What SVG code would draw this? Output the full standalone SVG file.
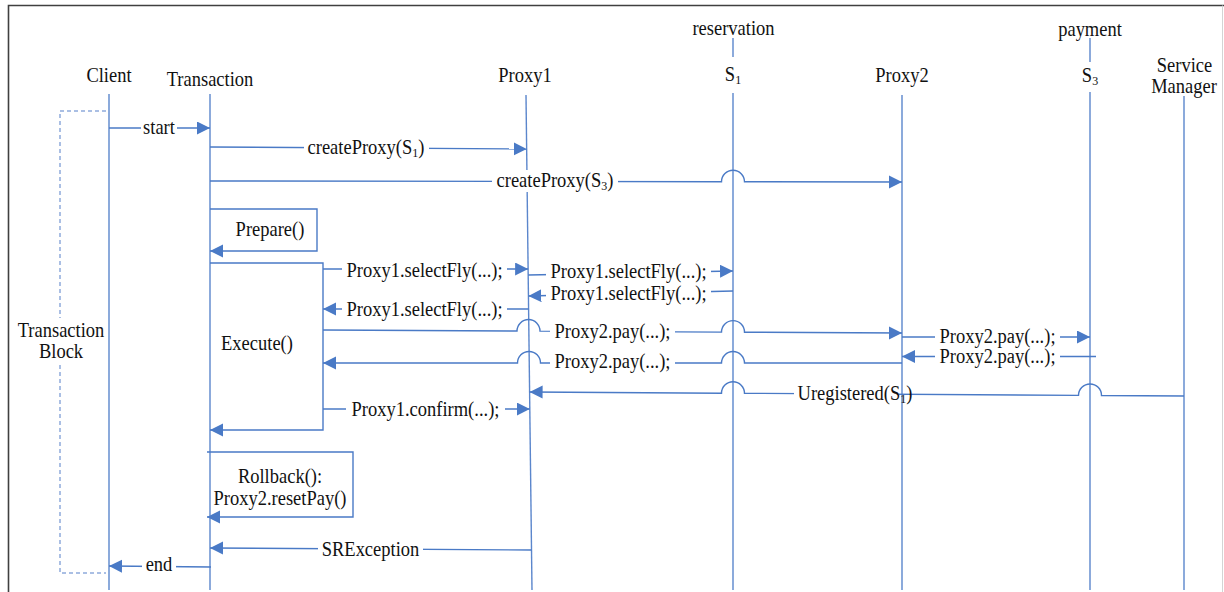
<svg xmlns="http://www.w3.org/2000/svg" width="1224" height="592" viewBox="0 0 1224 592">
  <style>
    .t { font-family: "Liberation Serif", "Times New Roman", serif; font-size: 18.5px; fill: #111; }
    .m { text-anchor: middle; }
    .life { stroke: #5b86cc; stroke-width: 1.4; fill: none; }
    .msg { stroke: #4a7ac6; stroke-width: 1.4; fill: none; }
    .arr { marker-end: url(#ah); }
    .bg { fill: #fff; }
    .dash { stroke: #8fabdc; stroke-width: 1.5; stroke-dasharray: 4 3; fill: none; }
  </style>
  <defs>
    <marker id="ah" markerWidth="14" markerHeight="14" refX="13" refY="6.5" orient="auto" markerUnits="userSpaceOnUse">
      <path d="M0,0 L13,6.5 L0,13 Z" fill="#4a7ac6"/>
    </marker>
  </defs>

  <rect width="1224" height="592" fill="#fff"/>
  <!-- outer frame -->
  <path d="M8.5,600 V5.5 H1224" stroke="#404040" stroke-width="1.6" fill="none"/>
  <line x1="1222.5" y1="5.5" x2="1222.5" y2="592" stroke="#d4d4d4" stroke-width="1"/>

  <!-- lifelines -->
  <g id="client">
    <text class="t m" transform="translate(109 81.5) scale(1 1.12)">Client</text>
    <line class="life" x1="109" y1="94" x2="109" y2="590"/>
  </g>
  <g id="transaction">
    <text class="t m" transform="translate(210 86) scale(1 1.12)">Transaction</text>
    <line class="life" x1="210" y1="94" x2="210" y2="590"/>
  </g>
  <g id="proxy1">
    <text class="t m" transform="translate(525 82) scale(1 1.12)">Proxy1</text>
    <line class="life" x1="526" y1="95" x2="532" y2="590"/>
  </g>
  <g id="s1">
    <text class="t m" transform="translate(733.5 35) scale(1 1.12)">reservation</text>
    <line class="life" x1="733" y1="38" x2="733" y2="57"/>
    <text class="t m" transform="translate(733 81) scale(1 1.12)">S<tspan font-size="12" dy="3">1</tspan></text>
    <line class="life" x1="733" y1="93" x2="733" y2="590"/>
  </g>
  <g id="proxy2">
    <text class="t m" transform="translate(902 82) scale(1 1.12)">Proxy2</text>
    <line class="life" x1="902" y1="95" x2="902" y2="590"/>
  </g>
  <g id="s3">
    <text class="t m" transform="translate(1090 36) scale(1 1.12)">payment</text>
    <line class="life" x1="1090" y1="38" x2="1090" y2="62"/>
    <text class="t m" transform="translate(1090 82) scale(1 1.12)">S<tspan font-size="12" dy="3">3</tspan></text>
    <line class="life" x1="1090" y1="92" x2="1090" y2="590"/>
  </g>
  <g id="service-manager">
    <text class="t m" transform="translate(1184.5 72) scale(1 1.12)">Service</text>
    <text class="t m" transform="translate(1184 93) scale(1 1.12)">Manager</text>
    <line class="life" x1="1184" y1="96" x2="1184" y2="590"/>
  </g>

  <!-- transaction block bracket -->
  <g id="transaction-block">
    <path class="dash" d="M106,111 H60 V318 M60,365 V573 H106"/>
    <text class="t m" transform="translate(61 337) scale(1 1.12)">Transaction</text>
    <text class="t m" transform="translate(61 358) scale(1 1.12)">Block</text>
  </g>

  <!-- messages -->
  <g id="connectors">
    <path class="msg arr" d="M109,128 H210"/>
    <path class="msg arr" d="M210,147 L526.7,149"/>
    <path class="msg arr" d="M210,181 L721.5,181.7 A11.5,11.5 0 0 1 744.5,181.8 L902,182"/>
    <!-- Prepare() self call -->
    <path class="msg arr" d="M210,209 H317 V251 H210"/>
    <!-- Execute() self call -->
    <path class="msg arr" d="M210,263 H323 V430 H210"/>
    <path class="msg arr" d="M323,269 H528.1"/>
    <path class="msg arr" d="M528.2,275 L733,271"/>
    <path class="msg arr" d="M733,291 L528.4,296"/>
    <path class="msg arr" d="M528.6,309 H323"/>
    <path class="msg arr" d="M323,330 L517,331 A11.5,11.5 0 0 1 540,331.1 L721.5,332.1 A11.5,11.5 0 0 1 744.5,332.2 L902,333"/>
    <path class="msg arr" d="M902,337 H1090"/>
    <path class="msg arr" d="M1096,356.5 H902"/>
    <path class="msg arr" d="M902,363 H744.5 A11.5,11.5 0 0 0 721.5,363 H540.5 A11.5,11.5 0 0 0 517.5,363 H323"/>
    <path class="msg arr" d="M1184,396 L1101.5,395.5 A11.5,11.5 0 0 0 1078.5,395.4 L744.5,393.3 A11.5,11.5 0 0 0 721.5,393.2 L529.6,392"/>
    <path class="msg arr" d="M323,409 H529.8"/>
    <!-- Rollback() self call -->
    <path class="msg arr" d="M207,452 H353 V517 H207"/>
    <path class="msg arr" d="M531.5,550 L210,548"/>
    <path class="msg arr" d="M211,567 L109,566"/>
  </g>

  <!-- message labels -->
  <g id="labels">
    <rect class="bg" x="141" y="119" width="36" height="19"/>
    <text class="t m" transform="translate(159 133.5) scale(1 1.12)">start</text>

    <rect class="bg" x="304" y="138" width="125" height="20"/>
    <text class="t m" transform="translate(366 154) scale(1 1.12)">createProxy(S<tspan font-size="12" dy="3">1</tspan><tspan dy="-3">)</tspan></text>

    <rect class="bg" x="492" y="170" width="126" height="22"/>
    <text class="t m" transform="translate(555 187) scale(1 1.12)">createProxy(S<tspan font-size="12" dy="3">3</tspan><tspan dy="-3">)</tspan></text>

    <text class="t m" transform="translate(270 236) scale(1 1.12)">Prepare()</text>
    <text class="t m" transform="translate(257 350) scale(1 1.12)">Execute()</text>

    <rect class="bg" x="342" y="260" width="165" height="20"/>
    <text class="t m" transform="translate(424.5 276.5) scale(1 1.12)">Proxy1.selectFly(...);</text>

    <rect class="bg" x="546" y="263" width="165" height="19"/>
    <text class="t m" transform="translate(628.5 278) scale(1 1.12)">Proxy1.selectFly(...);</text>

    <rect class="bg" x="546" y="285" width="165" height="19"/>
    <text class="t m" transform="translate(628.5 300) scale(1 1.12)">Proxy1.selectFly(...);</text>

    <rect class="bg" x="342" y="300" width="165" height="20"/>
    <text class="t m" transform="translate(424.5 316) scale(1 1.12)">Proxy1.selectFly(...);</text>

    <rect class="bg" x="550" y="323" width="125" height="19"/>
    <text class="t m" transform="translate(612.5 338) scale(1 1.12)">Proxy2.pay(...);</text>

    <rect class="bg" x="935" y="328" width="125" height="18"/>
    <text class="t m" transform="translate(997.5 342.5) scale(1 1.08)">Proxy2.pay(...);</text>

    <rect class="bg" x="935" y="349" width="125" height="17"/>
    <text class="t m" transform="translate(997.5 362.5) scale(1 1.08)">Proxy2.pay(...);</text>

    <rect class="bg" x="550" y="354" width="125" height="18"/>
    <text class="t m" transform="translate(612.5 368) scale(1 1.12)">Proxy2.pay(...);</text>

    <rect class="bg" x="794" y="384" width="105" height="20"/>
    <text class="t m" transform="translate(855 400) scale(1 1.12)">Uregistered(S<tspan font-size="12" dy="3">1</tspan><tspan dy="-3">)</tspan></text>

    <rect class="bg" x="346" y="400" width="159" height="20"/>
    <text class="t m" transform="translate(425.5 416) scale(1 1.12)">Proxy1.confirm(...);</text>

    <text class="t m" transform="translate(280 483) scale(1 1.12)">Rollback():</text>
    <text class="t m" transform="translate(280 505) scale(1 1.12)">Proxy2.resetPay()</text>

    <rect class="bg" x="318" y="540" width="105" height="20"/>
    <text class="t m" transform="translate(370.5 556) scale(1 1.12)">SRException</text>

    <rect class="bg" x="142" y="557" width="34" height="18"/>
    <text class="t m" transform="translate(159 570.5) scale(1 1.12)">end</text>
  </g>
</svg>
